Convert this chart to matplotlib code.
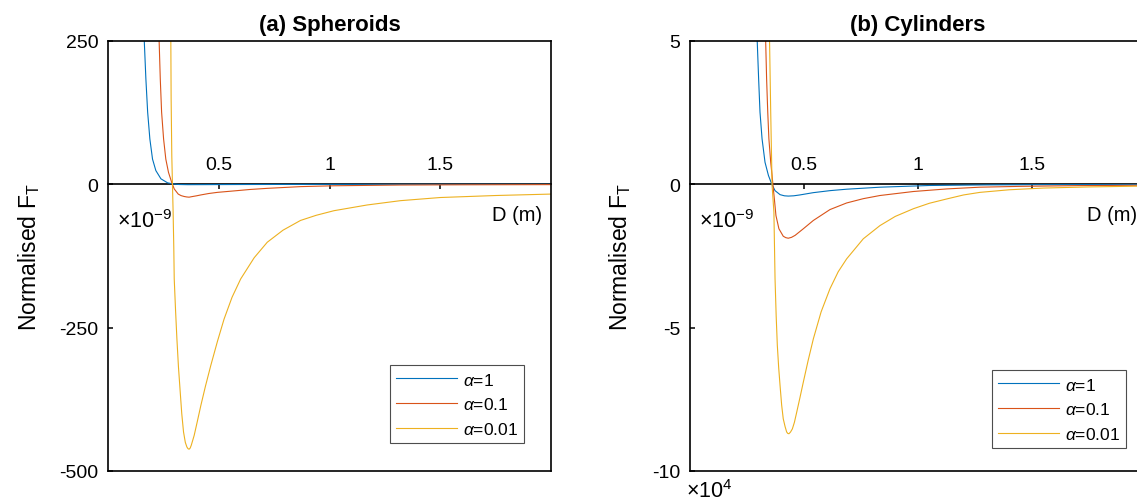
import matplotlib
matplotlib.use('Agg')
import matplotlib.pyplot as plt

plt.rcParams['font.family'] = ['Liberation Sans', 'DejaVu Sans']
plt.rcParams['mathtext.fontset'] = 'custom'
plt.rcParams['mathtext.rm'] = 'Liberation Sans'
plt.rcParams['mathtext.it'] = 'Liberation Sans:italic'
plt.rcParams['mathtext.bf'] = 'Liberation Sans:bold'
plt.rcParams['axes.unicode_minus'] = False

# ---------------- data (D in units of 1e-9 m) ----------------
labels = [r'$\alpha$=1', r'$\alpha$=0.1', r'$\alpha$=0.01']
colors = ['#0072BD', '#D95319', '#EDB120']
xticks = [0.5, 1, 1.5]
xticklabels = ['0.5', '1', '1.5']

# (a) Spheroids
sph_yticks = [250, 0, -250, -500]
sph_a1_x = [0.150, 0.164, 0.171, 0.179, 0.189, 0.201, 0.216, 0.239, 0.269, 0.291, 0.32, 0.36,
            0.45, 0.6, 0.8, 1.0, 1.5, 2.0]
sph_a1_y = [340, 248, 184, 126, 79, 44, 24, 9.6, 2.6, 0.9, -0.3, -0.6,
            -0.5, -0.3, -0.15, -0.08, -0.03, -0.01]
sph_a01_x = [0.226, 0.231, 0.236, 0.242, 0.251, 0.261, 0.273, 0.287, 0.299, 0.317, 0.33, 0.344,
             0.355, 0.366, 0.381, 0.4, 0.419, 0.455, 0.494, 0.568, 0.64, 0.719, 0.869, 1.02,
             1.32, 1.6, 2.0]
sph_a01_y = [320, 248, 184, 126, 79, 44, 21, 4, -8, -17, -19.7, -21.2,
             -22, -22.4, -21.3, -20, -18.5, -16, -14, -11.5, -9, -7, -4, -2.5,
             -1.2, -0.8, -0.5]
sph_a001_x = [0.283, 0.285, 0.288, 0.291, 0.294, 0.297, 0.299, 0.305, 0.311, 0.318, 0.326, 0.333,
              0.341, 0.349, 0.356, 0.361, 0.366, 0.371, 0.376, 0.389, 0.403, 0.419, 0.44, 0.464,
              0.494, 0.524, 0.56, 0.599, 0.66, 0.719, 0.79, 0.869, 0.94, 1.02, 1.17, 1.32, 1.5,
              1.75, 2.0]
sph_a001_y = [300, 150, 50, 0, -48.5, -110, -165, -220, -269, -318, -362, -400,
              -432, -450, -458, -461, -462, -460, -455, -438, -414, -386, -352, -316,
              -274, -235, -197, -165, -128, -101, -80, -63, -54, -46, -36, -28.5, -23,
              -19.5, -17]

# (b) Cylinders
cyl_yticks = [5, 0, -5, -10]
cyl_a1_x = [0.29, 0.295, 0.301, 0.307, 0.316, 0.329, 0.344, 0.358, 0.373, 0.395, 0.414, 0.431,
            0.455, 0.482, 0.541, 0.614, 0.687, 0.833, 1.05, 1.3, 1.6, 2.0]
cyl_a1_y = [6.2, 4.96, 3.68, 2.52, 1.59, 0.77, 0.31, 0.02, -0.22, -0.36, -0.40, -0.41,
            -0.40, -0.37, -0.29, -0.22, -0.17, -0.1, -0.04, -0.02, -0.01, -0.005]
cyl_a01_x = [0.328, 0.332, 0.336, 0.341, 0.346, 0.354, 0.36, 0.364, 0.37, 0.377, 0.39, 0.409,
             0.42, 0.431, 0.445, 0.461, 0.497, 0.541, 0.614, 0.687, 0.76, 0.833, 0.98, 1.126,
             1.27, 1.45, 1.7, 2.0]
cyl_a01_y = [6.0, 4.96, 3.68, 2.52, 1.59, 0.77, 0.31, -0.04, -0.51, -1.09, -1.55, -1.81,
             -1.86, -1.88, -1.85, -1.78, -1.55, -1.26, -0.88, -0.65, -0.5, -0.39, -0.25, -0.16,
             -0.1, -0.07, -0.045, -0.03]
cyl_a001_x = [0.348, 0.349, 0.354, 0.36, 0.368, 0.373, 0.378, 0.383, 0.389, 0.395, 0.402, 0.409,
              0.417, 0.424, 0.429, 0.434, 0.441, 0.449, 0.458, 0.468, 0.482, 0.497, 0.518, 0.541,
              0.575, 0.614, 0.65, 0.687, 0.76, 0.833, 0.9, 0.98, 1.05, 1.126, 1.2, 1.272, 1.4,
              1.55, 1.75, 2.0]
cyl_a001_y = [6.0, 4.96, 2.52, -0.04, -0.97, -3.3, -4.6, -5.62, -6.4, -7.02, -7.7, -8.18,
              -8.45, -8.64, -8.69, -8.7, -8.64, -8.53, -8.3, -7.95, -7.45, -6.9, -6.15, -5.39,
              -4.45, -3.64, -3.05, -2.6, -1.9, -1.44, -1.12, -0.85, -0.66, -0.51, -0.37, -0.28,
              -0.19, -0.13, -0.09, -0.06]

W, H = 1137, 502
fig = plt.figure(figsize=(W / 100, H / 100), dpi=100)


def panel(left_px, width_px, title, ylim, yticks, xs, ys, leg_right_px, leg_bottom_px, ylabel_x):
    top_px, bot_px = 42, 472
    ax = fig.add_axes([left_px / W, 1 - bot_px / H, width_px / W, (bot_px - top_px) / H])
    for x, y, lab, c in zip(xs, ys, labels, colors):
        ax.plot(x, y, color=c, lw=0.8, label=lab)
    ax.set_xlim(0, 2)
    ax.set_ylim(*ylim)
    ax.set_yticks(yticks)
    ax.set_yticklabels([str(t) for t in yticks])
    ax.tick_params(axis='y', direction='in', length=3.5, width=1.1, labelsize=14, pad=7)
    ax.set_xticks([])
    for s in ax.spines.values():
        s.set_linewidth(1.2)
    frac = (0 - ylim[0]) / (ylim[1] - ylim[0])
    sec = ax.secondary_xaxis(frac)
    sec.set_xticks(xticks)
    sec.set_xticklabels(xticklabels)
    sec.tick_params(direction='in', length=3.5, width=1.1, labelsize=14, pad=8.5)
    sec.spines['top'].set_linewidth(1.2)
    ax.set_title(title, fontweight='bold', fontsize=16, pad=8)
    ax.set_ylabel(r'Normalised F$_{\mathrm{T}}$', fontsize=16.5)
    ax.yaxis.set_label_coords(ylabel_x, 0.5)
    ax.text(0.02, 0.582, r'$\times$10$^{-9}$', transform=ax.transAxes, fontsize=15.5,
            ha='left', va='center')
    ax.text(0.98, 0.597, 'D (m)', transform=ax.transAxes, fontsize=14.5, ha='right', va='center')
    leg = ax.legend(loc='lower right', bbox_to_anchor=(leg_right_px / W, 1 - leg_bottom_px / H),
                    bbox_transform=fig.transFigure, borderaxespad=0, fancybox=False,
                    edgecolor='0.3', framealpha=1, fontsize=12.5, handlelength=3.5,
                    handletextpad=0.35, labelspacing=0.5, borderpad=0.35)
    leg.get_frame().set_linewidth(0.8)
    return ax


ax1 = panel(108, 443, '(a) Spheroids', (-500, 250), sph_yticks,
            [sph_a1_x, sph_a01_x, sph_a001_x], [sph_a1_y, sph_a01_y, sph_a001_y],
            524, 444, -0.15)
ax2 = panel(690, 456, '(b) Cylinders', (-10, 5), cyl_yticks,
            [cyl_a1_x, cyl_a01_x, cyl_a001_x], [cyl_a1_y, cyl_a01_y, cyl_a001_y],
            1126, 449, -0.125)
ax2.text(-0.009, -0.045, r'$\times$10$^{4}$', transform=ax2.transAxes, fontsize=15.5,
         ha='left', va='center')

fig.savefig('out.png', dpi=100)
